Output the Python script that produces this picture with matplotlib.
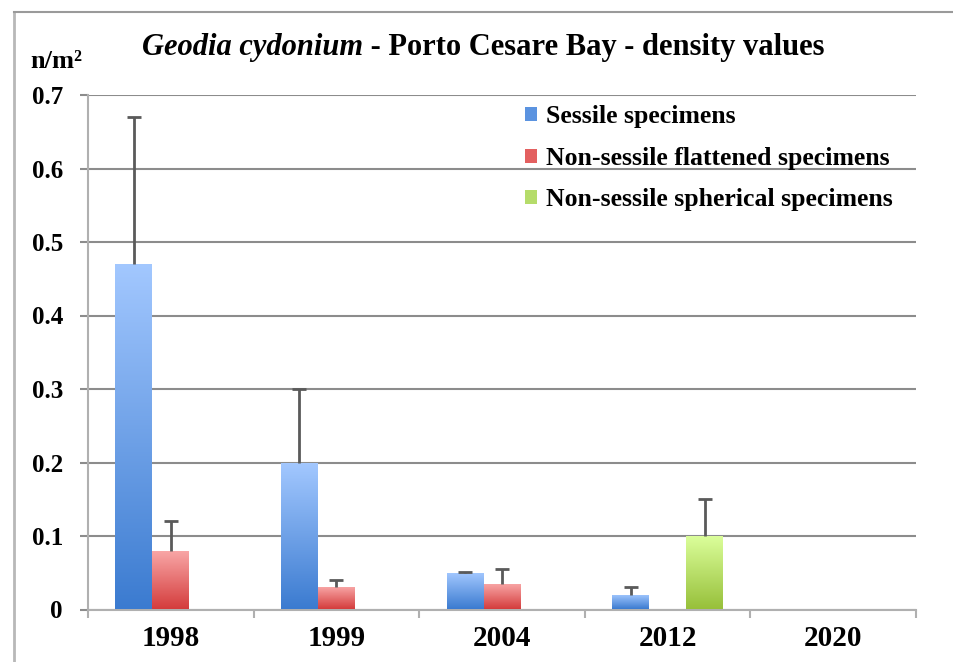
import matplotlib
matplotlib.use("Agg")
import matplotlib.pyplot as plt
import numpy as np
from matplotlib.colors import LinearSegmentedColormap
from matplotlib.patches import Patch
from matplotlib.lines import Line2D

years = ["1998", "1999", "2004", "2012", "2020"]
series_names = ["Sessile specimens", "Non-sessile flattened specimens",
                "Non-sessile spherical specimens"]
sessile = [0.47, 0.20, 0.05, 0.02, 0.0]
sessile_err = [0.20, 0.10, 0.001, 0.01, 0.0]
flattened = [0.08, 0.03, 0.035, 0.0, 0.0]
flattened_err = [0.04, 0.01, 0.02, 0.0, 0.0]
spherical = [0.0, 0.0, 0.0, 0.10, 0.0]
spherical_err = [0.0, 0.0, 0.0, 0.05, 0.0]
yticks = [0, 0.1, 0.2, 0.3, 0.4, 0.5, 0.6, 0.7]
ytick_labels = ["0", "0.1", "0.2", "0.3", "0.4", "0.5", "0.6", "0.7"]

values = [sessile, flattened, spherical]
errors = [sessile_err, flattened_err, spherical_err]
grad = [("#3b7bd0", "#a3c8ff"), ("#d43c3c", "#f9a8a8"), ("#97c03a", "#dcff9c")]
legend_cols = ["#5b93e0", "#e36060", "#b5dc6a"]

SERIF = "Liberation Serif"
fig = plt.figure(figsize=(9.54, 6.62), dpi=100)
ax = fig.add_axes([88/954, 1-609.5/662, (916-88)/954, (609.5-95)/662])

x = np.arange(len(years))
w = 0.223
for i, (vals, errs, (c0, c1)) in enumerate(zip(values, errors, grad)):
    pos = x + (i - 1) * w
    bars = ax.bar(pos, vals, width=w, color="none", edgecolor="none", zorder=3)
    cmap = LinearSegmentedColormap.from_list("g%d" % i, [c0, c1])
    for b in bars:
        h = b.get_height()
        if h <= 0:
            continue
        im = ax.imshow(np.linspace(0, 1, 256).reshape(-1, 1), cmap=cmap,
                       extent=[b.get_x(), b.get_x() + b.get_width(), 0, h],
                       origin="lower", aspect="auto", zorder=3)
        im.set_clip_path(b)
    mask = np.array(vals) > 0
    _, caps, _ = ax.errorbar(pos[mask], np.array(vals)[mask],
                             yerr=[np.zeros(mask.sum()), np.array(errs)[mask]],
                             fmt="none", ecolor="#5a5a5a", elinewidth=2, capsize=5,
                             capthick=2, zorder=4)
    if len(caps) == 2:
        caps[0].set_visible(False)
        caps[1].set_color("#333333")

ax.set_xlim(-0.5, len(years) - 0.5)
ax.set_ylim(0, 0.7)
ax.set_yticks(yticks)
ax.set_yticklabels(ytick_labels, fontfamily=SERIF, fontweight="bold", fontsize=18)
ax.set_xticks(x)
ax.set_xticklabels(years, fontfamily=SERIF, fontweight="bold", fontsize=21)
ax.set_xticks(np.arange(len(years) + 1) - 0.5, minor=True)
ax.tick_params(axis="x", which="major", length=0, pad=11)
ax.tick_params(axis="x", which="minor", length=6, width=1.5, color="#b0b0b0")
ax.tick_params(axis="y", length=6, width=1.5, color="#8c8c8c", pad=12)
ax.grid(axis="y", color="#8c8c8c", linewidth=1.5, zorder=0)
ax.set_axisbelow(True)
for s in ["top", "right"]:
    ax.spines[s].set_visible(False)
ax.spines["left"].set_color("#b0b0b0")
ax.spines["left"].set_linewidth(1.5)
ax.spines["bottom"].set_color("#b0b0b0")
ax.spines["bottom"].set_linewidth(1.5)

# outer frame
fig.add_artist(Line2D([14/954, 14/954], [0, 1-12/662], transform=fig.transFigure,
                      color="#b8b8b8", lw=2))
fig.add_artist(Line2D([14/954, 1], [1-12/662, 1-12/662], transform=fig.transFigure,
                      color="#9a9a9a", lw=1.5))

# title
t1 = fig.text(142/954, 1-48/662, "Geodia cydonium", fontfamily=SERIF,
              fontweight="bold", fontstyle="italic", fontsize=22, va="center")
fig.canvas.draw()
bb = t1.get_window_extent()
fig.text(bb.x1 / fig.bbox.width, 1-48/662, " - Porto Cesare Bay - density values",
         fontfamily=SERIF, fontweight="bold", fontsize=22, va="center")

fig.text(30/954, 1-62/662, "n/m²", fontfamily=SERIF, fontweight="bold",
         fontsize=19, va="center")

handles = [Patch(facecolor=c, edgecolor="none") for c in legend_cols]
leg = ax.legend(handles, series_names, loc="upper left",
                bbox_to_anchor=(515/954, 1-95/662), bbox_transform=fig.transFigure,
                frameon=False, prop={"family": SERIF, "weight": "bold", "size": 18.5},
                handlelength=0.45, handleheight=0.45, handletextpad=0.35,
                labelspacing=0.72, borderaxespad=0)

fig.savefig("out.png", dpi=100)
